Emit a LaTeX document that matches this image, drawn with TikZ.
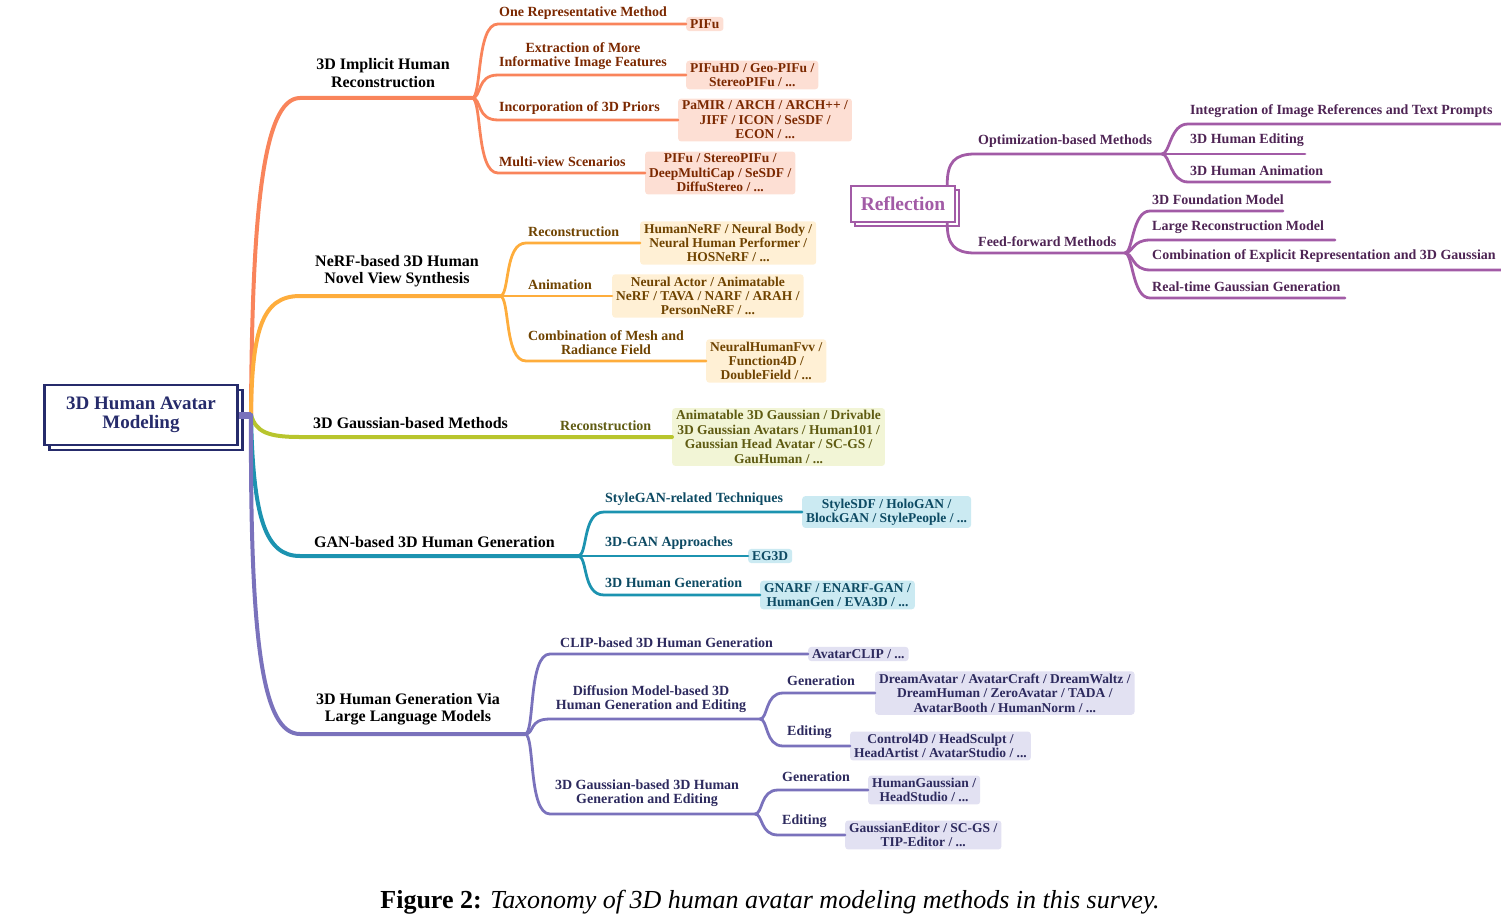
\documentclass[tikz,border=0pt]{standalone}
\usepackage{fontspec}
\setmainfont{Liberation Serif}
\usetikzlibrary{shadows}

\definecolor{navy}{HTML}{262B6B}
\definecolor{coral}{HTML}{F9845B}
\definecolor{coralfill}{HTML}{FDDFD4}
\definecolor{coraltext}{HTML}{7B2800}
\definecolor{amber}{HTML}{FEAD3C}
\definecolor{amberfill}{HTML}{FFF0D5}
\definecolor{ambertext}{HTML}{6F4300}
\definecolor{olive}{HTML}{B8C52D}
\definecolor{olivefill}{HTML}{F2F5D6}
\definecolor{olivetext}{HTML}{5F5B12}
\definecolor{sea}{HTML}{1C93B0}
\definecolor{seafill}{HTML}{CBEAF2}
\definecolor{seatext}{HTML}{0D4A63}
\definecolor{lilac}{HTML}{7A72BC}
\definecolor{lilacfill}{HTML}{E2E1F2}
\definecolor{lilactext}{HTML}{2D2A5E}
\definecolor{plum}{HTML}{A25BA6}
\definecolor{plumtext}{HTML}{4E2454}

\tikzset{
  trunk/.style={line width=4pt, line cap=round},
  twig/.style={line width=2.8pt, line cap=round},
  mainlbl/.style={font=\fontsize{16}{17.5}\selectfont\bfseries, align=center, inner sep=1pt},
  sublbl/.style={font=\fontsize{14}{14.4}\selectfont\bfseries, align=center, inner sep=1pt},
  leaf/.style={font=\fontsize{13.5}{14.4}\selectfont\bfseries, align=center, inner xsep=4pt,
    inner ysep=2.5pt, rounded corners=3pt, anchor=west},
  rootbox/.style={draw=navy, line width=2.5pt, fill=white, text=navy, align=center,
    font=\fontsize{19}{19}\selectfont\bfseries, minimum width=193pt, minimum height=60pt,
    copy shadow={shadow xshift=5pt, shadow yshift=-5pt, draw=navy, line width=2.5pt, fill=white}},
  reflbox/.style={draw=plum, line width=2.5pt, fill=white, text=plum,
    font=\fontsize{19.5}{20}\selectfont\bfseries, minimum width=104pt, minimum height=36pt,
    copy shadow={shadow xshift=4pt, shadow yshift=-4pt, draw=plum, line width=2.5pt, fill=white}}
}

\begin{document}
\begin{tikzpicture}[x=1pt, y=-1pt]
\useasboundingbox (0,0) rectangle (1501,915);

% root
\node[rootbox] (root) at (141,415) {3D Human Avatar\\Modeling};

% forks
\coordinate (hub) at (251,415);
\coordinate (impfork) at (472,98);
\coordinate (nerffork) at (500,296);
\coordinate (ganfork) at (578,556);
\coordinate (llmfork) at (525,734);
\coordinate (difffork) at (760,719);
\coordinate (gsfork) at (755,814);

% leaves
\node[leaf, fill=coralfill, text=coraltext] (pifu) at (686,24) {PIFu};
\node[leaf, fill=coralfill, text=coraltext] (pifuhd) at (686,75) {PIFuHD / Geo-PIFu /\\StereoPIFu / ...};
\node[leaf, fill=coralfill, text=coraltext] (pamir) at (678,120) {PaMIR / ARCH / ARCH++ /\\JIFF / ICON / SeSDF /\\ECON / ...};
\node[leaf, fill=coralfill, text=coraltext] (multi) at (645,173) {PIFu / StereoPIFu /\\DeepMultiCap / SeSDF /\\DiffuStereo / ...};

\node[leaf, fill=amberfill, text=ambertext] (nerfrec) at (640,243) {HumanNeRF / Neural Body /\\Neural Human Performer /\\HOSNeRF / ...};
\node[leaf, fill=amberfill, text=ambertext] (nerfani) at (612,296) {Neural Actor / Animatable\\NeRF / TAVA / NARF / ARAH /\\PersonNeRF / ...};
\node[leaf, fill=amberfill, text=ambertext] (nerfmix) at (706,361) {NeuralHumanFvv /\\Function4D /\\DoubleField / ...};

\node[leaf, fill=olivefill, text=olivetext] (gsrec) at (672,437) {Animatable 3D Gaussian / Drivable\\3D Gaussian Avatars / Human101 /\\Gaussian Head Avatar / SC-GS /\\GauHuman / ...};

\node[leaf, fill=seafill, text=seatext] (stylegan) at (802,512) {StyleSDF / HoloGAN /\\BlockGAN / StylePeople / ...};
\node[leaf, fill=seafill, text=seatext] (eg3d) at (748,556) {EG3D};
\node[leaf, fill=seafill, text=seatext] (gnarf) at (760,595) {GNARF / ENARF-GAN /\\HumanGen / EVA3D / ...};

\node[leaf, fill=lilacfill, text=lilactext] (clip) at (808,654) {AvatarCLIP / ...};
\node[leaf, fill=lilacfill, text=lilactext] (diffgen) at (875,693) {DreamAvatar / AvatarCraft / DreamWaltz /\\DreamHuman / ZeroAvatar / TADA /\\AvatarBooth / HumanNorm / ...};
\node[leaf, fill=lilacfill, text=lilactext] (diffedit) at (850,746) {Control4D / HeadSculpt /\\HeadArtist / AvatarStudio / ...};
\node[leaf, fill=lilacfill, text=lilactext] (gsgen) at (868,790) {HumanGaussian /\\HeadStudio / ...};
\node[leaf, fill=lilacfill, text=lilactext] (gsedit) at (845,835) {GaussianEditor / SC-GS /\\TIP-Editor / ...};

% main branches
\draw[trunk, coral] (hub) .. controls (252,220) and (262,98) .. (300,98) -- (impfork);
\draw[trunk, amber] (hub) .. controls (252,330) and (262,296) .. (300,296) -- (nerffork);
\draw[trunk, olive] (hub) .. controls (256,432) and (268,437) .. (300,437) -- (gsrec.west);
\draw[trunk, sea] (hub) .. controls (253,520) and (266,556) .. (300,556) -- (ganfork);
\draw[trunk, lilac] (hub) .. controls (250,640) and (262,734) .. (300,734) -- (llmfork);
\draw[line width=7pt, lilac] (root.east) -- (hub);

% implicit reconstruction
\draw[twig, coral] (impfork) .. controls +(10,0) and +(-22,0) .. (498,24) -- (pifu.west);
\draw[twig, coral] (impfork) .. controls +(10,0) and +(-22,0) .. (498,75) -- (pifuhd.west);
\draw[twig, coral] (impfork) .. controls +(10,0) and +(-22,0) .. (498,120) -- (pamir.west);
\draw[twig, coral] (impfork) .. controls +(10,0) and +(-22,0) .. (498,173) -- (multi.west);

% nerf
\draw[twig, amber] (nerffork) .. controls +(10,0) and +(-22,0) .. (526,243) -- (nerfrec.west);
\draw[twig, amber] (nerffork) -- (nerfani.west);
\draw[twig, amber] (nerffork) .. controls +(10,0) and +(-22,0) .. (526,361) -- (nerfmix.west);

% gan
\draw[twig, sea] (ganfork) .. controls +(10,0) and +(-22,0) .. (604,512) -- (stylegan.west);
\draw[twig, sea] (ganfork) -- (eg3d.west);
\draw[twig, sea] (ganfork) .. controls +(10,0) and +(-22,0) .. (604,595) -- (gnarf.west);

% llm
\draw[twig, lilac] (llmfork) .. controls +(10,0) and +(-22,0) .. (550,654) -- (clip.west);
\draw[twig, lilac] (llmfork) .. controls +(10,0) and +(-22,0) .. (550,719) -- (difffork);
\draw[twig, lilac] (llmfork) .. controls +(10,0) and +(-22,0) .. (550,814) -- (gsfork);
\draw[twig, lilac] (difffork) .. controls +(8,0) and +(-18,0) .. (783,693) -- (diffgen.west);
\draw[twig, lilac] (difffork) .. controls +(8,0) and +(-18,0) .. (783,746) -- (diffedit.west);
\draw[twig, lilac] (gsfork) .. controls +(8,0) and +(-18,0) .. (778,790) -- (gsgen.west);
\draw[twig, lilac] (gsfork) .. controls +(8,0) and +(-18,0) .. (778,835) -- (gsedit.west);

% labels
\node[mainlbl] (imp) at (383,73) {3D Implicit Human\\Reconstruction};
\node[mainlbl] (nerf) at (397,271) {NeRF-based 3D Human\\Novel View Synthesis};
\node[mainlbl, anchor=south west] (gs) at (312,430) {3D Gaussian-based Methods};
\node[mainlbl, anchor=south west] (gan) at (313,549) {GAN-based 3D Human Generation};
\node[mainlbl] (llm) at (408,709) {3D Human Generation Via\\Large Language Models};

\node[sublbl, text=coraltext, anchor=south west] (repr) at (498,21) {One Representative Method};
\node[sublbl, text=coraltext, anchor=south] (extr) at (583,71) {Extraction of More\\Informative Image Features};
\node[sublbl, text=coraltext, anchor=south west] (prior) at (498,116) {Incorporation of 3D Priors};
\node[sublbl, text=coraltext, anchor=south west] (mview) at (498,168) {Multi-view Scenarios};

\node[sublbl, text=ambertext, anchor=south west] (nrec) at (527,238) {Reconstruction};
\node[sublbl, text=ambertext, anchor=south west] (nani) at (527,291) {Animation};
\node[sublbl, text=ambertext, anchor=south] (nmix) at (606,356) {Combination of Mesh and\\Radiance Field};

\node[sublbl, text=olivetext, anchor=south west] (grec) at (559,432) {Reconstruction};

\node[sublbl, text=seatext, anchor=south west] (sgan) at (604,507) {StyleGAN-related Techniques};
\node[sublbl, text=seatext, anchor=south west] (tgan) at (604,551) {3D-GAN Approaches};
\node[sublbl, text=seatext, anchor=south west] (hgen) at (604,589) {3D Human Generation};

\node[sublbl, text=lilactext, anchor=south west] (clipl) at (559,649) {CLIP-based 3D Human Generation};
\node[sublbl, text=lilactext, anchor=south] (diffl) at (651,714) {Diffusion Model-based 3D\\Human Generation and Editing};
\node[sublbl, text=lilactext, anchor=south] (gsl) at (647,808) {3D Gaussian-based 3D Human\\Generation and Editing};
\node[sublbl, text=lilactext, anchor=south west] (dgen) at (786,687) {Generation};
\node[sublbl, text=lilactext, anchor=south west] (dedit) at (786,740) {Editing};
\node[sublbl, text=lilactext, anchor=south west] (ggen) at (781,783) {Generation};
\node[sublbl, text=lilactext, anchor=south west] (gedit) at (781,829) {Editing};

% reflection
\node[reflbox] (refl) at (903,204) {Reflection};
\coordinate (optfork) at (1162,154);
\coordinate (fffork) at (1125,253);
\coordinate (o1) at (1501,124);
\coordinate (o2) at (1305,154);
\coordinate (o3) at (1330,182);
\coordinate (f1) at (1283,211);
\coordinate (f2) at (1335,240);
\coordinate (f3) at (1501,270);
\coordinate (f4) at (1345,298);

\draw[twig, plum] ([xshift=-9pt]refl.north east) .. controls (947,162) and (955,154) .. (975,154) -- (optfork);
\draw[twig, plum] ([xshift=-9pt]refl.south east) .. controls (947,245) and (955,253) .. (975,253) -- (fffork);
\draw[twig, plum] (optfork) .. controls +(8,0) and +(-18,0) .. (1188,124) -- (o1);
\draw[twig, plum] (optfork) -- (o2);
\draw[twig, plum] (optfork) .. controls +(8,0) and +(-18,0) .. (1188,182) -- (o3);
\draw[twig, plum] (fffork) .. controls +(8,0) and +(-18,0) .. (1150,211) -- (f1);
\draw[twig, plum] (fffork) .. controls +(8,0) and +(-18,0) .. (1150,240) -- (f2);
\draw[twig, plum] (fffork) .. controls +(8,0) and +(-18,0) .. (1150,270) -- (f3);
\draw[twig, plum] (fffork) .. controls +(8,0) and +(-18,0) .. (1150,298) -- (f4);

\node[sublbl, text=plumtext, anchor=south west] (optl) at (977,149) {Optimization-based Methods};
\node[sublbl, text=plumtext, anchor=south west] (ffl) at (977,248) {Feed-forward Methods};
\node[sublbl, text=plumtext, anchor=south west] (o1l) at (1189,119) {Integration of Image References and Text Prompts};
\node[sublbl, text=plumtext, anchor=south west] (o2l) at (1189,148) {3D Human Editing};
\node[sublbl, text=plumtext, anchor=south west] (o3l) at (1189,177) {3D Human Animation};
\node[sublbl, text=plumtext, anchor=south west] (f1l) at (1151,206) {3D Foundation Model};
\node[sublbl, text=plumtext, anchor=south west] (f2l) at (1151,235) {Large Reconstruction Model};
\node[sublbl, text=plumtext, anchor=south west] (f3l) at (1151,264) {Combination of Explicit Representation and 3D Gaussian};
\node[sublbl, text=plumtext, anchor=south west] (f4l) at (1151,293) {Real-time Gaussian Generation};

% caption
\node[font=\fontsize{26}{30}\selectfont] (cap) at (770,902) {\textbf{Figure 2:} \textit{Taxonomy of 3D human avatar modeling methods in this survey.}};
\end{tikzpicture}
\end{document}
